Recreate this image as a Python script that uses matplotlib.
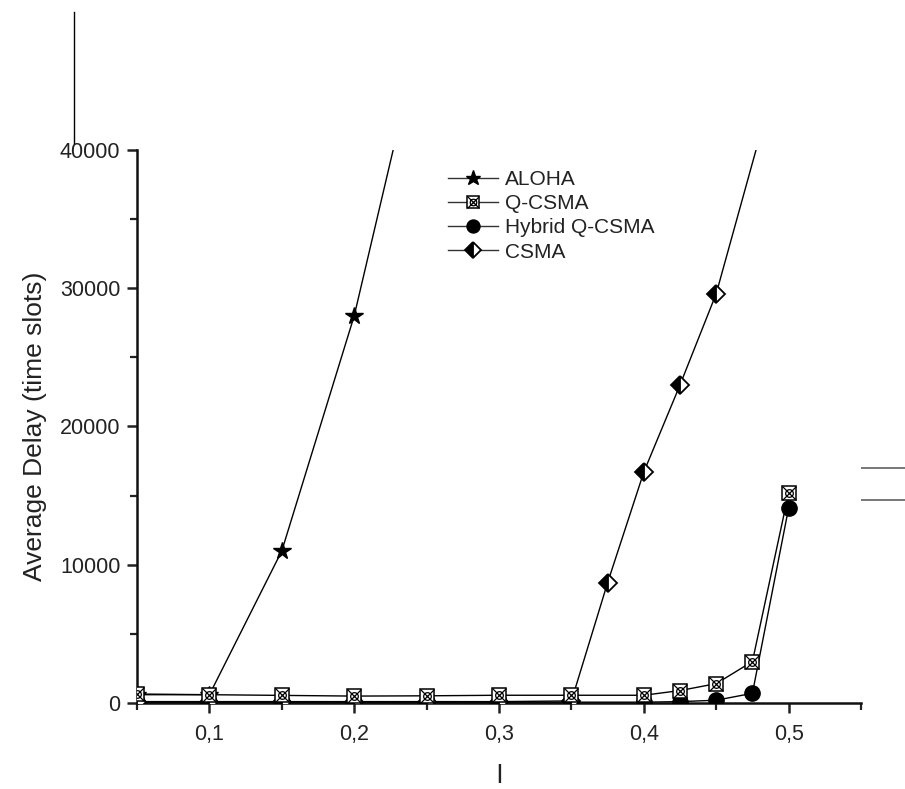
import matplotlib
matplotlib.use("Agg")
import matplotlib.pyplot as plt
from matplotlib.lines import Line2D
from matplotlib.path import Path
from matplotlib.ticker import MultipleLocator, FixedLocator
from matplotlib.legend_handler import HandlerTuple

plt.rcParams['font.family'] = ['Liberation Sans', 'DejaVu Sans']

# data
x_full = [0.05, 0.1, 0.15, 0.2, 0.25, 0.3, 0.35, 0.4, 0.425, 0.45, 0.475, 0.5]
aloha_x = [0.05, 0.1, 0.15, 0.2, 0.25]
aloha = [600, 600, 11000, 28000, 50300]
qcsma = [650, 600, 550, 500, 520, 560, 560, 560, 900, 1400, 3000, 15200]
hybrid = [60, 60, 60, 60, 60, 60, 60, 60, 100, 200, 700, 14100]
csma_x = [0.05, 0.1, 0.15, 0.2, 0.25, 0.3, 0.35, 0.375, 0.4, 0.425, 0.45, 0.5]
csma = [100, 100, 100, 100, 100, 100, 150, 8700, 16700, 23000, 29600, 48500]

xticks = [0.1, 0.2, 0.3, 0.4, 0.5]
xticklabels = ["0,1", "0,2", "0,3", "0,4", "0,5"]
yticks = [0, 10000, 20000, 30000, 40000]

# cross + circle marker drawn over a white square for Q-CSMA
circ = Path.unit_circle()
circ = Path(circ.vertices * 0.55, circ.codes)
d1 = Path([(-1, -1), (1, 1)], [Path.MOVETO, Path.LINETO])
d2 = Path([(-1, 1), (1, -1)], [Path.MOVETO, Path.LINETO])
xcirc = Path.make_compound_path(circ, d1, d2)

fig = plt.figure(figsize=(9.05, 7.89), dpi=100)
ax = fig.add_axes([0.1514, 0.109, 0.80, 0.7011])

lw = 1.0
h_al, = ax.plot(aloha_x, aloha, color="black", lw=lw, marker="*", ms=13,
                mfc="black", mec="black", zorder=3)
h_q1, = ax.plot(x_full, qcsma, color="black", lw=lw, marker="s", ms=10,
                mfc="white", mec="black", mew=1.1, zorder=4)
h_q2, = ax.plot(x_full, qcsma, ls="none", marker=xcirc, ms=10,
                mfc="none", mec="black", mew=0.9, zorder=5)
h_hy, = ax.plot(x_full, hybrid, color="black", lw=lw, marker="o", ms=11,
                mfc="black", mec="black", zorder=3)
h_cs, = ax.plot(csma_x, csma, color="black", lw=lw, marker="D", ms=9,
                fillstyle="left", mfc="black", mfcalt="white", mec="black",
                mew=1.3, zorder=3)

ax.set_xlim(0.05, 0.55)
ax.set_ylim(0, 40000)

ax.spines["top"].set_visible(False)
ax.spines["right"].set_visible(False)
for s in ("left", "bottom"):
    ax.spines[s].set_linewidth(1.8)
    ax.spines[s].set_color("#111111")

ax.xaxis.set_major_locator(FixedLocator(xticks))
ax.set_xticklabels(xticklabels)
ax.xaxis.set_minor_locator(MultipleLocator(0.05))
ax.yaxis.set_major_locator(FixedLocator(yticks))
ax.set_yticklabels([str(v) for v in yticks])
ax.yaxis.set_minor_locator(MultipleLocator(5000))

ax.tick_params(which="major", direction="out", length=7, width=1.8,
               labelsize=15.5, colors="#222222", pad=5)
ax.tick_params(axis="x", which="major", pad=8)
ax.tick_params(which="minor", direction="out", length=5, width=1.6,
               colors="#222222")

ax.set_ylabel("Average Delay (time slots)", fontsize=19, color="#222222",
              labelpad=9)
ax.set_xlabel("l", fontsize=19, color="#222222", labelpad=14)

leg = ax.legend([h_al, (h_q1, h_q2), h_hy, h_cs],
                ["ALOHA", "Q-CSMA", "Hybrid Q-CSMA", "CSMA"],
                handler_map={tuple: HandlerTuple(ndivide=1)},
                loc="upper left", bbox_to_anchor=(0.41, 0.99),
                frameon=False, fontsize=15, handlelength=2.4,
                handletextpad=0.3, labelspacing=0.25, markerscale=0.85,
                borderaxespad=0.3)
for t in leg.get_texts():
    t.set_color("#222222")
for ln in leg.get_lines():
    ln.set_color("#333333")

# stray scan lines in the reference
fig.add_artist(Line2D([74 / 905, 74 / 905], [1 - 12 / 789, 1 - 143 / 789],
                      color="black", lw=1.0, transform=fig.transFigure))
for yy in (468, 500):
    fig.add_artist(Line2D([862 / 905, 1.0], [1 - yy / 789, 1 - yy / 789],
                          color="#777777", lw=1.4, transform=fig.transFigure))

fig.savefig("out.png", dpi=100)
